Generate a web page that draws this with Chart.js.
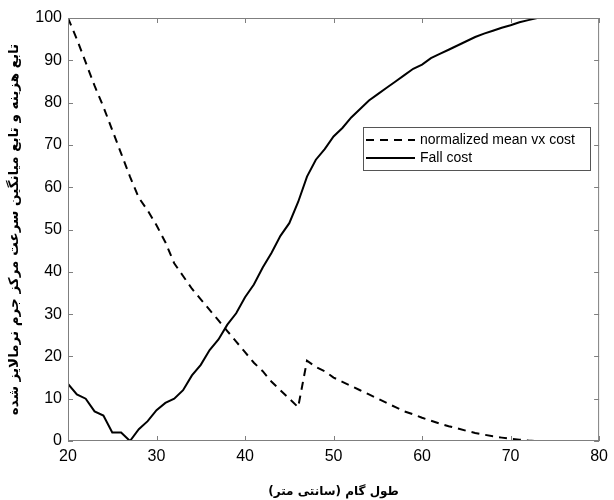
<!DOCTYPE html>
<html>
<head>
<meta charset="utf-8">
<script src="https://cdn.jsdelivr.net/npm/chart.js@4/dist/chart.umd.min.js"></script>
<style>
html,body{margin:0;padding:0;background:#fff;}
canvas{display:block;}
</style>
</head>
<body>
<canvas id="c" width="614" height="500"></canvas>
<script>
const stepLength = [20,21,22,23,24,25,26,27,28,29,30,31,32,33,34,35,36,37,38,39,40,41,42,43,44,45,46,47,48,49,50,51,52,53,54,55,56,57,58,59,60,61,62,63,64,65,66,67,68,69,70,71,72,73];
const meanVxCost = [100,95,89.5,84,79,73.5,68,62.5,57.5,54.5,51,47,42,39,36,33.5,31,28.5,26,23.5,21,18.5,16.5,14,12,10,8,19,17.5,16.5,15,14,13,12,11,10,9,8,7,6.3,5.5,4.8,4.1,3.5,3,2.4,1.9,1.5,1.1,0.8,0.5,0.3,0.1,0];
const fallCost = [13.5,11,10,7,6,2,2,0,2.8,4.7,7.3,9,10,12,15.5,18,21.5,24,27.5,30.2,34,37,41,44.5,48.5,51.5,56.5,62.5,66.5,69,72,74,76.5,78.5,80.5,82,83.5,85,86.5,88,89,90.5,91.5,92.5,93.5,94.5,95.5,96.3,97,97.7,98.3,99,99.5,100];
const seriesNames = ['normalized mean vx cost','Fall cost'];
const xTitle = 'طول گام (سانتی متر)';
const yTitle = 'تابع هزینه و تابع میانگین سرعت مرکز جرم نرمالایز شده';
const xRange = [20, 80];
const yRange = [0, 100];

const pts = arr => stepLength.map((x,i)=>({x:x, y:arr[i]}));

const frame = {
  id:'frame',
  afterDraw(chart){
    const ctx = chart.ctx, a = chart.chartArea;
    const xs = chart.scales.x, ys = chart.scales.y;
    ctx.save();
    ctx.strokeStyle = '#7f7f7f';
    ctx.lineWidth = 1;
    ctx.strokeRect(a.left+0.5, a.top+0.5, a.right-a.left-1, a.bottom-a.top-1);
    const L = 5;
    ctx.beginPath();
    xs.ticks.forEach(t=>{
      const px = Math.round(xs.getPixelForValue(t.value))+0.5;
      ctx.moveTo(px, a.bottom); ctx.lineTo(px, a.bottom-L);
      ctx.moveTo(px, a.top); ctx.lineTo(px, a.top+L);
    });
    ys.ticks.forEach(t=>{
      const py = Math.round(ys.getPixelForValue(t.value))+0.5;
      ctx.moveTo(a.left, py); ctx.lineTo(a.left+L, py);
      ctx.moveTo(a.right, py); ctx.lineTo(a.right-L, py);
    });
    ctx.stroke();
    // legend
    const lx = a.left + 295, ly = a.top + 109, lw = 227, lh = 43;
    ctx.fillStyle = '#fff';
    ctx.fillRect(lx, ly, lw, lh);
    ctx.strokeStyle = '#555';
    ctx.strokeRect(lx+0.5, ly+0.5, lw, lh);
    ctx.font = '14px "Liberation Sans", Arial, sans-serif';
    ctx.textBaseline = 'middle';
    ctx.fillStyle = '#000';
    chart.data.datasets.forEach((ds,i)=>{
      const y = ly + 13 + i*18;
      ctx.strokeStyle = ds.borderColor;
      ctx.lineWidth = ds.borderWidth;
      ctx.setLineDash(ds.borderDash || []);
      ctx.beginPath(); ctx.moveTo(lx+3, y); ctx.lineTo(lx+52, y); ctx.stroke();
      ctx.setLineDash([]);
      ctx.fillText(ds.label, lx+57, y);
    });
    ctx.restore();
  }
};

new Chart(document.getElementById('c'), {
  type:'line',
  data:{
    datasets:[
      {label:seriesNames[0], data:pts(meanVxCost), borderColor:'#000', borderWidth:2, borderDash:[8,6], pointRadius:0, fill:false, tension:0},
      {label:seriesNames[1], data:pts(fallCost), borderColor:'#000', borderWidth:2, pointRadius:0, fill:false, tension:0}
    ]
  },
  options:{
    responsive:false,
    devicePixelRatio:1,
    animation:false,
    layout:{padding:{top:18,right:9,left:0,bottom:0}},
    plugins:{legend:{display:false}, tooltip:{enabled:false}},
    scales:{
      x:{type:'linear', min:xRange[0], max:xRange[1],
         ticks:{stepSize:10, color:'#000', padding:6, font:{family:'"Liberation Sans", Arial, sans-serif', size:16}},
         grid:{drawOnChartArea:false, drawTicks:false},
         border:{display:false},
         title:{display:true, text:xTitle, color:'#000', font:{family:'"DejaVu Sans", sans-serif', size:12, weight:'bold'}, padding:{top:4,bottom:1}},
         afterFit(s){ s.height = 59; }
      },
      y:{min:yRange[0], max:yRange[1],
         ticks:{stepSize:10, color:'#000', padding:6, font:{family:'"Liberation Sans", Arial, sans-serif', size:16}},
         grid:{drawOnChartArea:false, drawTicks:false},
         border:{display:false},
         title:{display:true, text:yTitle, color:'#000', font:{family:'"DejaVu Sans", sans-serif', size:13.5, weight:'bold'}, padding:{top:6,bottom:4}},
         afterFit(s){ s.width = 68; }
      }
    }
  },
  plugins:[frame]
});
</script>
</body>
</html>
